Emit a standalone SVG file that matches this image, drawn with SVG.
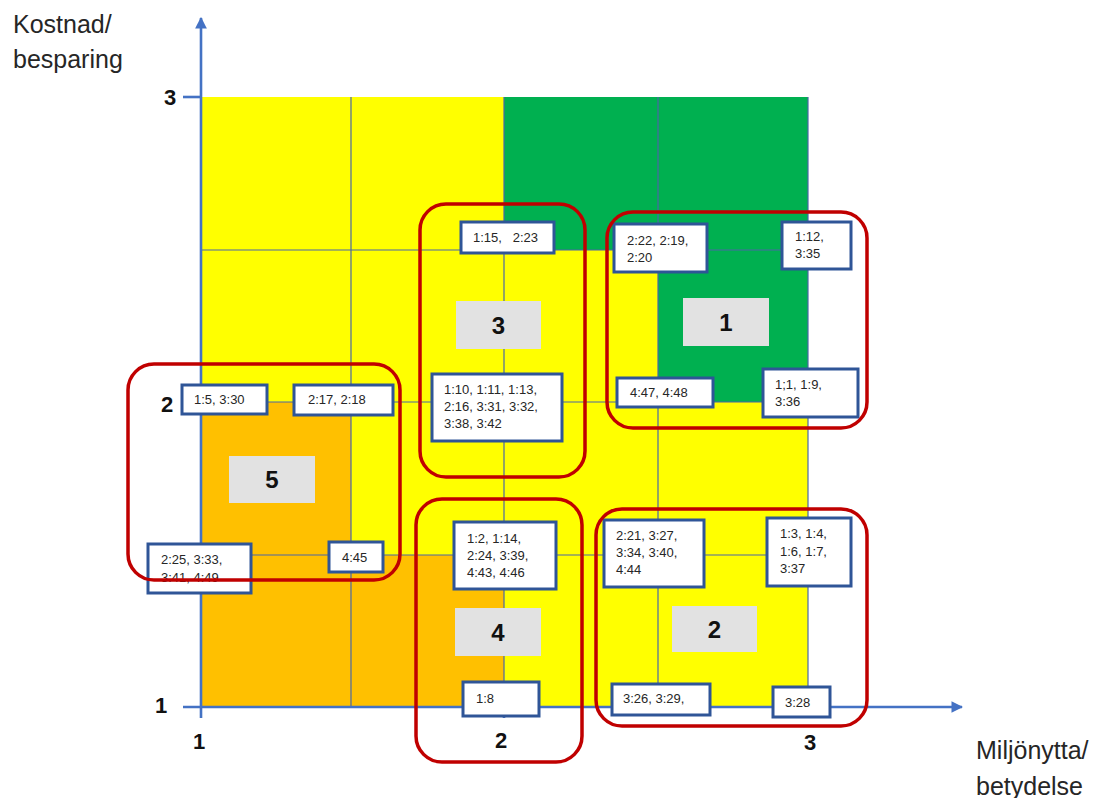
<svg xmlns="http://www.w3.org/2000/svg" width="1109" height="798" viewBox="0 0 1109 798">
  <style>
    .yel { fill: #FFFF00; }
    .grn { fill: #00B050; }
    .org { fill: #FFC000; }
    .grid { stroke: #4a67a6; stroke-width: 1.2; fill: none; }
    .axis { stroke: #4472C4; stroke-width: 2.6; fill: none; }
    .tag { fill: #ffffff; stroke: #2F5597; stroke-width: 3; }
    .tag-t { font-family: "Liberation Sans", Arial, sans-serif; font-size: 13px; fill: #262626; }
    .grp { fill: none; stroke: #C00000; stroke-width: 3.5; }
    .num-box { fill: #E2E2E2; }
    .num { font-family: "Liberation Sans", Arial, sans-serif; font-size: 24px; font-weight: bold; fill: #111; text-anchor: middle; }
    .tick { font-family: "Liberation Sans", Arial, sans-serif; font-size: 22px; font-weight: bold; fill: #111; text-anchor: middle; }
    .title { font-family: "Liberation Sans", Arial, sans-serif; font-size: 25px; fill: #262626; }
  </style>
  <defs>
    <marker id="arrow" viewBox="0 0 10 10" refX="9" refY="5" markerWidth="4.5" markerHeight="4.5" orient="auto">
      <path d="M0,0 L10,5 L0,10 z" fill="#4472C4"/>
    </marker>
  </defs>

  <rect width="1109" height="798" fill="#ffffff"/>

  <!-- coloured cells of the matrix -->
  <g id="cells">
    <rect class="yel" x="201" y="97" width="303" height="153"/>
    <rect class="grn" x="504" y="97" width="304" height="153"/>
    <rect class="yel" x="201" y="250" width="457" height="152"/>
    <rect class="grn" x="658" y="250" width="150" height="152"/>
    <rect class="org" x="201" y="402" width="150" height="153"/>
    <rect class="yel" x="351" y="402" width="457" height="153"/>
    <rect class="org" x="201" y="555" width="303" height="152"/>
    <rect class="yel" x="504" y="555" width="304" height="152"/>
  </g>

  <!-- inner grid lines -->
  <g id="grid">
    <line class="grid" x1="201" y1="250" x2="808" y2="250"/>
    <line class="grid" x1="201" y1="402" x2="808" y2="402"/>
    <line class="grid" x1="201" y1="555" x2="808" y2="555"/>
    <line class="grid" x1="351" y1="97" x2="351" y2="707"/>
    <line class="grid" x1="504" y1="97" x2="504" y2="707"/>
    <line class="grid" x1="658" y1="97" x2="658" y2="707"/>
    <line class="grid" x1="808" y1="97" x2="808" y2="707"/>
  </g>

  <!-- axes with ticks -->
  <g id="connectors">
    <line class="axis" x1="201" y1="718" x2="201" y2="18" marker-end="url(#arrow)"/>
    <line class="axis" x1="183" y1="707" x2="962" y2="707" marker-end="url(#arrow)"/>
    <line class="axis" x1="183" y1="97" x2="201" y2="97"/>
    <line class="axis" x1="183" y1="402" x2="201" y2="402"/>
    <line class="axis" x1="504" y1="707" x2="504" y2="718"/>
    <line class="axis" x1="808" y1="707" x2="808" y2="718"/>
  </g>

  <!-- axis titles and scale numbers -->
  <g id="axis-labels">
    <text class="title" x="13" y="33">Kostnad/</text>
    <text class="title" x="13" y="68">besparing</text>
    <text class="title" x="976" y="759">Miljönytta/</text>
    <text class="title" x="976" y="795">betydelse</text>
    <text class="tick" x="170" y="105">3</text>
    <text class="tick" x="167" y="412">2</text>
    <text class="tick" x="161" y="713">1</text>
    <text class="tick" x="199" y="749">1</text>
    <text class="tick" x="501" y="748">2</text>
    <text class="tick" x="810" y="750">3</text>
  </g>

  <!-- group number labels -->
  <g id="label-3"><rect class="num-box" x="456" y="301" width="85" height="48"/><text class="num" x="498.5" y="334">3</text></g>
  <g id="label-1"><rect class="num-box" x="683" y="298" width="86" height="48"/><text class="num" x="726" y="331">1</text></g>
  <g id="label-5"><rect class="num-box" x="229" y="456" width="86" height="47"/><text class="num" x="272" y="488">5</text></g>
  <g id="label-4"><rect class="num-box" x="455" y="608" width="86" height="48"/><text class="num" x="498" y="641">4</text></g>
  <g id="label-2"><rect class="num-box" x="672" y="606" width="85" height="46"/><text class="num" x="714.5" y="638">2</text></g>

  <!-- item tags -->
  <g id="tag-1-15">
    <rect class="tag" x="461" y="222" width="93" height="31"/>
    <text class="tag-t" x="473" y="242" xml:space="preserve">1:15,   2:23</text>
  </g>
  <g id="tag-1-10">
    <rect class="tag" x="432" y="374" width="130" height="67"/>
    <text class="tag-t" x="444" y="394">1:10, 1:11, 1:13,</text>
    <text class="tag-t" x="444" y="411">2:16, 3:31, 3:32,</text>
    <text class="tag-t" x="444" y="428">3:38, 3:42</text>
  </g>
  <g id="tag-2-22">
    <rect class="tag" x="614" y="224" width="93" height="48"/>
    <text class="tag-t" x="627" y="245">2:22, 2:19,</text>
    <text class="tag-t" x="627" y="262">2:20</text>
  </g>
  <g id="tag-1-12">
    <rect class="tag" x="782" y="222" width="69" height="47"/>
    <text class="tag-t" x="795" y="241">1:12,</text>
    <text class="tag-t" x="795" y="258">3:35</text>
  </g>
  <g id="tag-4-47">
    <rect class="tag" x="617" y="378" width="96" height="29"/>
    <text class="tag-t" x="630" y="397">4:47, 4:48</text>
  </g>
  <g id="tag-1-1">
    <rect class="tag" x="763" y="369" width="95" height="48"/>
    <text class="tag-t" x="775" y="389">1;1, 1:9,</text>
    <text class="tag-t" x="775" y="406">3:36</text>
  </g>
  <g id="tag-1-5">
    <rect class="tag" x="182" y="385" width="85" height="29"/>
    <text class="tag-t" x="194" y="404">1:5, 3:30</text>
  </g>
  <g id="tag-2-17">
    <rect class="tag" x="294" y="385" width="99" height="30"/>
    <text class="tag-t" x="308" y="404">2:17, 2:18</text>
  </g>
  <g id="tag-2-25">
    <rect class="tag" x="148" y="544" width="103" height="49"/>
    <text class="tag-t" x="161" y="564">2:25, 3:33,</text>
    <text class="tag-t" x="161" y="582">3:41, 4:49</text>
  </g>
  <g id="tag-4-45">
    <rect class="tag" x="329" y="542" width="54" height="30"/>
    <text class="tag-t" x="342" y="562">4:45</text>
  </g>
  <g id="tag-1-2">
    <rect class="tag" x="454" y="522" width="102" height="67"/>
    <text class="tag-t" x="467" y="543">1:2, 1:14,</text>
    <text class="tag-t" x="467" y="560">2:24, 3:39,</text>
    <text class="tag-t" x="467" y="577">4:43, 4:46</text>
  </g>
  <g id="tag-1-8">
    <rect class="tag" x="463" y="682" width="76" height="34"/>
    <text class="tag-t" x="476" y="703">1:8</text>
  </g>
  <g id="tag-2-21">
    <rect class="tag" x="604" y="520" width="100" height="67"/>
    <text class="tag-t" x="616" y="540">2:21, 3:27,</text>
    <text class="tag-t" x="616" y="557">3:34, 3:40,</text>
    <text class="tag-t" x="616" y="574">4:44</text>
  </g>
  <g id="tag-1-3">
    <rect class="tag" x="767" y="518" width="84" height="68"/>
    <text class="tag-t" x="780" y="538">1:3, 1:4,</text>
    <text class="tag-t" x="780" y="556">1:6, 1:7,</text>
    <text class="tag-t" x="780" y="573">3:37</text>
  </g>
  <g id="tag-3-26">
    <rect class="tag" x="612" y="684" width="98" height="31"/>
    <text class="tag-t" x="623" y="703">3:26, 3:29,</text>
  </g>
  <g id="tag-3-28">
    <rect class="tag" x="773" y="687" width="57" height="30"/>
    <text class="tag-t" x="785" y="707">3:28</text>
  </g>

  <!-- red outlines marking the five groups -->
  <g id="groups">
    <rect id="group-3" class="grp" x="420" y="204" width="165" height="273" rx="26"/>
    <rect id="group-1" class="grp" x="607" y="212" width="260" height="216" rx="26"/>
    <rect id="group-5" class="grp" x="128" y="364" width="272" height="216" rx="26"/>
    <rect id="group-4" class="grp" x="416" y="499" width="166" height="263" rx="26"/>
    <rect id="group-2" class="grp" x="596" y="509" width="271" height="217" rx="26"/>
  </g>
</svg>
